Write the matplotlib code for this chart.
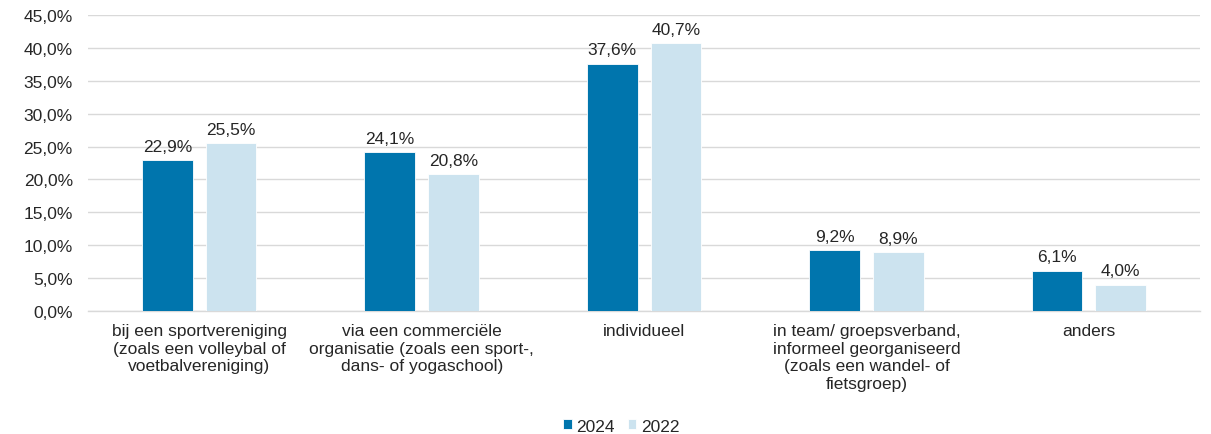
import matplotlib
matplotlib.use("Agg")
import matplotlib.pyplot as plt
import numpy as np
from matplotlib.ticker import FuncFormatter

categories = [
    "bij een sportvereniging\n(zoals een volleybal of\nvoetbalvereniging)",
    "via een commerciële\norganisatie (zoals een sport-,\ndans- of yogaschool)",
    "individueel",
    "in team/ groepsverband,\ninformeel georganiseerd\n(zoals een wandel- of\nfietsgroep)",
    "anders",
]
series_names = ["2024", "2022"]
values_2024 = [22.9, 24.1, 37.6, 9.2, 6.1]
values_2022 = [25.5, 20.8, 40.7, 8.9, 4.0]
yticks = [0, 5, 10, 15, 20, 25, 30, 35, 40, 45]

colors = ["#0075AD", "#CCE3EF"]
FS = 12.5

plt.rcParams['font.family'] = ['Liberation Sans', 'DejaVu Sans']
fig = plt.figure(figsize=(12.11, 4.35), dpi=100)
ax = fig.add_axes([0.0727, 0.2828, 0.9183, 0.6804])

x = np.arange(len(categories))
w = 0.228
off = 0.143
b1 = ax.bar(x - off, values_2024, w, color=colors[0], label=series_names[0], zorder=3,
            edgecolor="white", linewidth=0.6)
b2 = ax.bar(x + off, values_2022, w, color=colors[1], label=series_names[1], zorder=3,
            edgecolor="white", linewidth=0.6)

def fmt(v):
    return f"{v:.1f}".replace(".", ",") + "%"

for bars, vals in ((b1, values_2024), (b2, values_2022)):
    for rect, v in zip(bars, vals):
        ax.text(rect.get_x() + rect.get_width() / 2, v + 1.0, fmt(v),
                ha="center", va="bottom", fontsize=FS, color="#262626")

ax.set_xlim(-0.5, len(categories) - 0.5)
ax.set_ylim(0, 45)
ax.set_yticks(yticks)
ax.yaxis.set_major_formatter(FuncFormatter(lambda v, p: fmt(v)))
ax.set_xticks(x)
ax.set_xticklabels(categories, fontsize=FS, color="#262626", linespacing=1.2)
ax.tick_params(axis="y", labelsize=FS, colors="#262626", length=0, pad=11)
ax.tick_params(axis="x", length=0, pad=9)
ax.grid(axis="y", color="#D9D9D9", linewidth=1.0, zorder=0)
for s in ["top", "right", "left"]:
    ax.spines[s].set_visible(False)
ax.spines["bottom"].set_color("#D9D9D9")
ax.spines["bottom"].set_linewidth(1.0)

leg = fig.legend(handles=[b1, b2], labels=series_names, loc="lower center",
                 bbox_to_anchor=(0.513, -0.035), ncol=2, frameon=False, fontsize=FS,
                 handlelength=0.5, handleheight=0.5, handletextpad=0.25, columnspacing=0.75)
for t in leg.get_texts():
    t.set_color("#262626")

fig.savefig("out.png", dpi=100)
